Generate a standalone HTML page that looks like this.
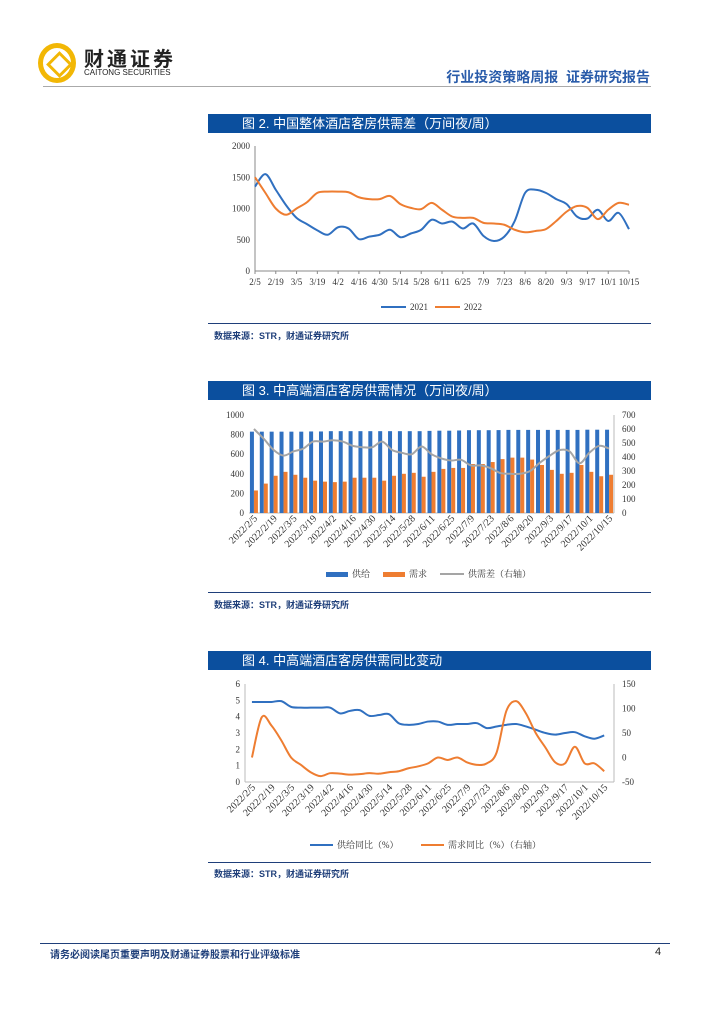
<!DOCTYPE html>
<html><head><meta charset="utf-8"><style>
body{margin:0;width:724px;height:1024px;background:#fff;font-family:"Liberation Sans","Noto Sans CJK SC",sans-serif;position:relative;overflow:hidden}
.abs{position:absolute}
.tbar{position:absolute;left:208px;width:443px;height:19px;background:#0b4f9e;color:#fff;font-size:13px;line-height:19px}
.tbar span{margin-left:34px}
.src{position:absolute;left:214px;font-size:9px;font-weight:bold;color:#1f3f7a}
.hr{position:absolute;left:208px;width:443px;height:1px;background:#1f3f7a}
svg text{font-family:"Liberation Serif","Noto Serif CJK SC",serif;font-size:9px;fill:#333}
svg text.rot{font-size:10px}
</style></head><body>
<div class="abs" style="left:38px;top:43px;width:28px;height:30px;border-radius:50%;border:5px solid #f2b705"></div>
<div class="abs" style="left:50px;top:55px;width:13px;height:13px;border:3px solid #f2b705;transform:rotate(45deg)"></div>
<div class="abs" style="left:84px;top:43px;font-size:20px;font-weight:bold;color:#222;letter-spacing:3px">财通证券</div>
<div class="abs" style="left:84px;top:68px;font-size:8px;color:#222">CAITONG SECURITIES</div>
<div class="abs" style="right:74px;top:67px;font-size:14px;color:#2a5caa;font-weight:bold">行业投资策略周报&nbsp; 证券研究报告</div>
<div class="abs" style="left:43px;top:86px;width:608px;height:1px;background:#aaa"></div>

<div class="tbar" style="top:114px"><span>图 2. 中国整体酒店客房供需差（万间夜/周）</span></div>
<svg class="abs" style="left:208px;top:133px" width="443" height="190" id="c1"></svg>
<div class="hr" style="top:323px"></div>
<div class="src" style="top:329px">数据来源：STR，财通证券研究所</div>

<div class="tbar" style="top:381px"><span>图 3. 中高端酒店客房供需情况（万间夜/周）</span></div>
<svg class="abs" style="left:208px;top:400px" width="443" height="192" id="c2"></svg>
<div class="hr" style="top:592px"></div>
<div class="src" style="top:598px">数据来源：STR，财通证券研究所</div>

<div class="tbar" style="top:651px"><span>图 4. 中高端酒店客房供需同比变动</span></div>
<svg class="abs" style="left:208px;top:670px" width="443" height="192" id="c3"></svg>
<div class="hr" style="top:862px"></div>
<div class="src" style="top:867px">数据来源：STR，财通证券研究所</div>

<div class="abs" style="left:40px;top:943px;width:630px;height:1px;background:#1f3f7a"></div>
<div class="abs" style="left:50px;top:946px;font-size:10px;font-weight:bold;color:#1f3f7a">请务必阅读尾页重要声明及财通证券股票和行业评级标准</div>
<div class="abs" style="left:655px;top:946px;font-size:11px;color:#222">4</div>

<script>
const c1Labels=["2/5","2/19","3/5","3/19","4/2","4/16","4/30","5/14","5/28","6/11","6/25","7/9","7/23","8/6","8/20","9/3","9/17","10/1","10/15"];
const c1Y2021=[1350,1550,1300,1050,850,750,650,580,700,680,510,550,580,660,540,600,660,820,760,790,680,760,560,480,550,800,1250,1300,1250,1150,1070,870,840,980,800,930,670];
const c1Y2022=[1500,1250,1000,900,1000,1100,1250,1270,1270,1260,1180,1150,1150,1200,1070,1010,990,1090,980,870,850,850,770,760,740,660,620,640,670,800,950,1040,1010,830,980,1090,1060];
const c2Labels=["2022/2/5","2022/2/19","2022/3/5","2022/3/19","2022/4/2","2022/4/16","2022/4/30","2022/5/14","2022/5/28","2022/6/11","2022/6/25","2022/7/9","2022/7/23","2022/8/6","2022/8/20","2022/9/3","2022/9/17","2022/10/1","2022/10/15"];
const c2Supply=[830,830,830,830,830,830,832,832,835,835,835,835,835,835,835,835,835,835,838,840,840,842,845,845,845,846,848,848,848,848,848,848,848,848,850,850,850];
const c2Demand=[230,300,380,420,390,360,330,320,315,320,360,360,360,330,380,400,410,370,420,450,460,460,500,500,520,550,565,565,545,490,440,400,410,490,420,375,390];
const c2Gap=[600,530,450,410,440,460,510,510,520,510,480,470,470,510,450,430,420,475,420,390,375,380,340,340,320,285,280,280,300,360,410,450,440,355,430,480,460];
const c3Supply=[4.9,4.9,4.9,4.95,4.6,4.55,4.55,4.55,4.55,4.2,4.35,4.4,4.05,4.1,4.15,3.6,3.5,3.55,3.7,3.7,3.5,3.55,3.55,3.6,3.3,3.4,3.5,3.55,3.4,3.2,3.0,2.9,3.0,3.05,2.8,2.65,2.85];
const c3Demand=[0,82,65,35,0,-15,-30,-38,-32,-33,-35,-34,-32,-33,-30,-28,-22,-18,-12,0,-5,0,-10,-15,-12,10,95,115,90,50,20,-10,-12,22,-12,-12,-28];

const NS="http://www.w3.org/2000/svg";
function el(svg,t,a){const e=document.createElementNS(NS,t);for(const k in a)e.setAttribute(k,a[k]);svg.appendChild(e);return e;}
function txt(svg,x,y,s,anchor,rot){const t=el(svg,"text",{x:x,y:y,"text-anchor":anchor||"middle"});if(rot){t.setAttribute("transform",`rotate(${rot} ${x} ${y})`);t.setAttribute("class","rot");}t.textContent=s;return t;}
function smooth(pts){let d=`M${pts[0][0]},${pts[0][1]}`;for(let i=0;i<pts.length-1;i++){const p0=pts[Math.max(0,i-1)],p1=pts[i],p2=pts[i+1],p3=pts[Math.min(pts.length-1,i+2)];d+=` C${p1[0]+(p2[0]-p0[0])/6},${p1[1]+(p2[1]-p0[1])/6} ${p2[0]-(p3[0]-p1[0])/6},${p2[1]-(p3[1]-p1[1])/6} ${p2[0]},${p2[1]}`;}return d;}

// Chart 1
(function(){const s=document.getElementById("c1");const x0=47,x1=421,yb=138,yt=13;
const X=i=>x0+(x1-x0)*i/36,Y=v=>yb-(yb-yt)*v/2000;
el(s,"line",{x1:x0,y1:yt,x2:x0,y2:yb,stroke:"#888"});el(s,"line",{x1:x0,y1:yb,x2:x1,y2:yb,stroke:"#888"});
[0,500,1000,1500,2000].forEach(v=>{txt(s,x0-5,Y(v)+3,v,"end");});
c1Labels.forEach((l,i)=>{el(s,"line",{x1:X(i*2),y1:yb,x2:X(i*2),y2:yb+3,stroke:"#888"});txt(s,X(i*2),yb+14,l);});
const p1=el(s,"path",{d:smooth(c1Y2021.map((v,i)=>[X(i),Y(v)])),fill:"none",stroke:"#3070c0","stroke-width":2});

const p2=el(s,"path",{d:smooth(c1Y2022.map((v,i)=>[X(i),Y(v)])),fill:"none",stroke:"#ee7d31","stroke-width":2});

el(s,"line",{x1:173,y1:174,x2:198,y2:174,stroke:"#3070c0","stroke-width":2});txt(s,202,177,"2021","start");
el(s,"line",{x1:227,y1:174,x2:252,y2:174,stroke:"#ee7d31","stroke-width":2});txt(s,256,177,"2022","start");
})();

// Chart 2
(function(){const s=document.getElementById("c2");const x0=41,x1=406,yb=113,yt=15;
const step=(x1-x0)/37,X=i=>x0+step*(i+0.5),Y=v=>yb-(yb-yt)*v/1000,YR=v=>yb-(yb-yt)*v/700;
[0,200,400,600,800,1000].forEach(v=>txt(s,x0-5,Y(v)+3,v,"end"));
[0,100,200,300,400,500,600,700].forEach(v=>txt(s,x1+8,YR(v)+3,v,"start"));
el(s,"line",{x1:x0,y1:yb,x2:x1,y2:yb,stroke:"#bbb"});el(s,"line",{x1:x1,y1:yt,x2:x1,y2:yb,stroke:"#bbb"});
c2Supply.forEach((v,i)=>{const r=el(s,"rect",{x:X(i)-4,y:Y(v),width:4,height:yb-Y(v),fill:"#3070c0"});
});
c2Demand.forEach((v,i)=>{const r=el(s,"rect",{x:X(i),y:Y(v),width:4,height:yb-Y(v),fill:"#ee7d31"});
});
const g=el(s,"path",{d:smooth(c2Gap.map((v,i)=>[X(i),YR(v)])),fill:"none",stroke:"#a5a5a5","stroke-width":2});

c2Labels.forEach((l,i)=>txt(s,X(i*2)+4,yb+6,l,"end",-45));
el(s,"rect",{x:118,y:172,width:22,height:5,fill:"#3070c0"});txt(s,144,177,"供给","start");
el(s,"rect",{x:175,y:172,width:22,height:5,fill:"#ee7d31"});txt(s,201,177,"需求","start");
el(s,"line",{x1:232,y1:174,x2:256,y2:174,stroke:"#a5a5a5","stroke-width":2});txt(s,260,177,"供需差（右轴）","start");
})();

// Chart 3
(function(){const s=document.getElementById("c3");const x0=41,x1=406,yb=112,yt=14;
const X=i=>x0+(x1-x0)*(i+0.3)/37.3,Y=v=>yb-(yb-yt)*v/6,YR=v=>yb-(yb-yt)*(v+50)/200;
[0,1,2,3,4,5,6].forEach(v=>txt(s,x0-9,Y(v)+3,v,"end"));
[-50,0,50,100,150].forEach(v=>txt(s,x1+8,YR(v)+3,v,"start"));
el(s,"line",{x1:x0-4,y1:yt,x2:x0-4,y2:yb,stroke:"#bbb"});el(s,"line",{x1:x0-4,y1:yb,x2:x1,y2:yb,stroke:"#bbb"});el(s,"line",{x1:x1,y1:yt,x2:x1,y2:yb,stroke:"#bbb"});
const a=el(s,"path",{d:smooth(c3Supply.map((v,i)=>[X(i),Y(v)])),fill:"none",stroke:"#3070c0","stroke-width":2});

const b=el(s,"path",{d:smooth(c3Demand.map((v,i)=>[X(i),YR(v)])),fill:"none",stroke:"#ee7d31","stroke-width":2});

c2Labels.forEach((l,i)=>txt(s,X(i*2)+4,yb+6,l,"end",-45));
el(s,"line",{x1:102,y1:175,x2:125,y2:175,stroke:"#3070c0","stroke-width":2});txt(s,129,178,"供给同比（%）","start");
el(s,"line",{x1:213,y1:175,x2:236,y2:175,stroke:"#ee7d31","stroke-width":2});txt(s,240,178,"需求同比（%）（右轴）","start");
})();
</script>
</body></html>
